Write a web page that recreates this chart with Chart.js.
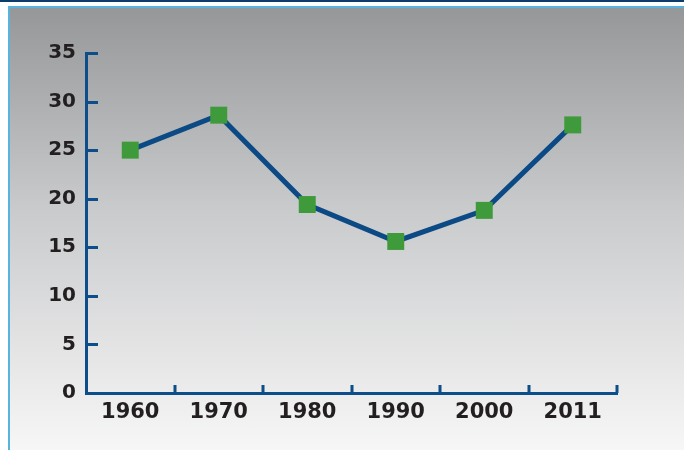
<!DOCTYPE html>
<html>
<head>
<meta charset="utf-8">
<script src="https://cdn.jsdelivr.net/npm/chart.js@4.4.1/dist/chart.umd.min.js"></script>
<style>
  html, body { margin: 0; padding: 0; background: #fff; }
  #frame { position: relative; width: 684px; height: 450px; overflow: hidden; }
  #topbar { position: absolute; left: 0; top: 0; width: 684px; height: 2px; background: #0d3d6b; }
  #panel {
    position: absolute; left: 8px; top: 6px; width: 676px; height: 444px;
    border-left: 2px solid #56b4de; border-top: 2px solid #56b4de;
    background: linear-gradient(to bottom, #969799 0%, #c9cacc 45%, #f7f7f7 100%);
  }
  #chart { position: absolute; left: 0; top: 0; }
</style>
</head>
<body>
<div id="frame">
  <div id="topbar"></div>
  <div id="panel"></div>
  <canvas id="chart" width="684" height="450"></canvas>
</div>
<script>
const years = ["1960", "1970", "1980", "1990", "2000", "2011"];
const values = [25, 28.6, 19.4, 15.6, 18.8, 27.6];
const yMin = 0, yMax = 35, yStep = 5;

const axisBlue = "#0c4d8a";

// short inward ticks on both axes
const innerTicks = {
  id: "innerTicks",
  afterDraw(chart) {
    const { ctx, scales: { x, y } } = chart;
    ctx.save();
    ctx.strokeStyle = axisBlue;
    ctx.lineWidth = 3;
    ctx.beginPath();
    y.ticks.forEach((t, i) => {
      if (i === 0) return;
      const py = Math.round(y.getPixelForTick(i)) + 0.5;
      ctx.moveTo(x.left, py);
      ctx.lineTo(x.left + 12, py);
    });
    const half = (x.getPixelForValue(1) - x.getPixelForValue(0)) / 2;
    years.forEach((_, i) => {
      const px = Math.round(x.getPixelForValue(i) + half);
      ctx.moveTo(px, y.bottom);
      ctx.lineTo(px, y.bottom - 8);
    });
    ctx.stroke();
    ctx.restore();
  }
};

new Chart(document.getElementById("chart"), {
  type: "line",
  data: {
    labels: years,
    datasets: [{
      data: values,
      borderColor: "#0b4a85",
      borderWidth: 5,
      tension: 0,
      pointStyle: "rect",
      pointRadius: 12,
      pointHoverRadius: 12,
      pointBackgroundColor: "#3e9a3a",
      pointBorderColor: "#3e9a3a",
      pointBorderWidth: 0
    }]
  },
  options: {
    responsive: false,
    animation: false,
    events: [],
    layout: { padding: { top: 53, right: 67, left: 0, bottom: 0 } },
    plugins: { legend: { display: false }, tooltip: { enabled: false } },
    scales: {
      x: {
        offset: true,
        grid: { display: false, drawTicks: false },
        border: { display: true, color: axisBlue, width: 3 },
        ticks: {
          color: "#231f20",
          padding: 7,
          font: { family: "DejaVu Sans", size: 21, weight: "bold" }
        },
        afterFit(scale) { scale.height = 57; }
      },
      y: {
        min: yMin,
        max: yMax,
        grid: { display: false, drawTicks: false },
        border: { display: true, color: axisBlue, width: 3 },
        ticks: {
          stepSize: yStep,
          color: "#231f20",
          padding: 10,
          font: { family: "DejaVu Sans", size: 20, weight: "bold" }
        },
        afterFit(scale) { scale.width = 86; }
      }
    }
  },
  plugins: [innerTicks]
});
</script>
</body>
</html>
